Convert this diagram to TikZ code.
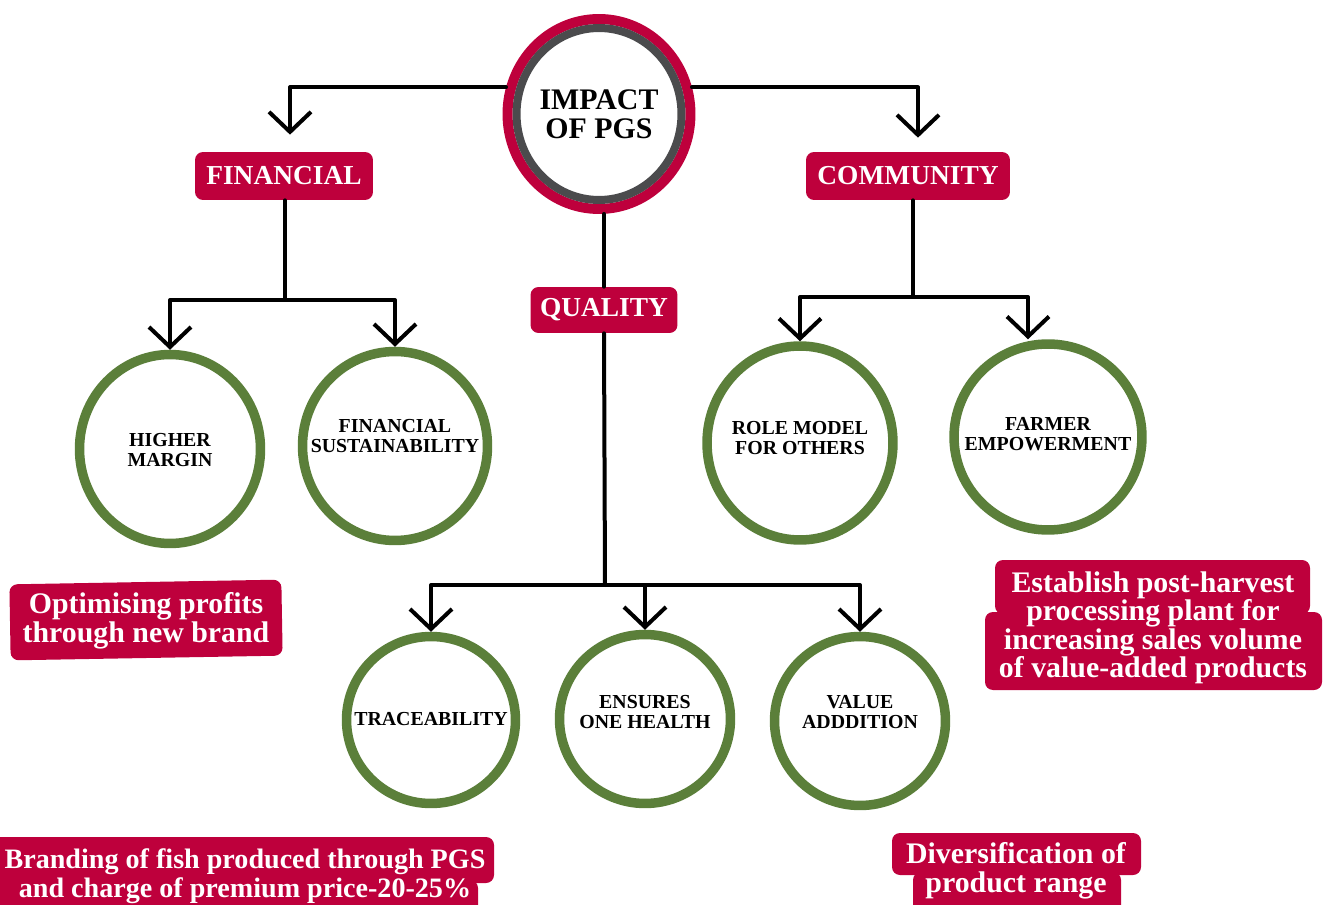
\documentclass[tikz,border=0pt]{standalone}
\usepackage{fontspec}
\setmainfont{Liberation Serif}
\usetikzlibrary{arrows.meta,shapes.geometric}
\definecolor{crim}{HTML}{BE003C}
\definecolor{leaf}{HTML}{5B7F3A}
\definecolor{ringgray}{HTML}{4B4B4D}
\begin{document}
\begin{tikzpicture}[x=0.02cm,y=-0.02cm,
  conn/.style={line width=0.08cm, line cap=round, line join=round, -{Straight Barb[length=0.4cm,width=0.84cm]}},
  link/.style={line width=0.08cm, line cap=round, line join=round},
  tag/.style={fill=crim, text=white, rounded corners=0.16cm, font=\bfseries\fontsize{15.6}{15.6}\selectfont, inner sep=0pt},
  bubble/.style={draw=leaf, line width=0.19cm, ellipse, inner sep=0pt},
  blabel/.style={font=\bfseries\fontsize{11.3}{11.5}\selectfont, align=center},
  note/.style={text=white, font=\bfseries\fontsize{17}{16.2}\selectfont, align=center, inner sep=0pt},
  notebg/.style={fill=crim, rounded corners=0.16cm}]
\useasboundingbox (0,0) rectangle (1329,905);

% central node
\node[ellipse, draw=crim, line width=0.2cm, minimum width=3.66cm, minimum height=3.8cm, inner sep=0pt,
      align=center, font=\bfseries\fontsize{17}{16.5}\selectfont] (impact) at (599,114) {IMPACT\\OF PGS};
\draw[ringgray, line width=0.16cm] (impact.center) ellipse [x radius=1.65cm, y radius=1.72cm];

% category tags
\node[tag, minimum width=3.56cm, minimum height=0.96cm] (fin) at (284,176) {FINANCIAL};
\node[tag, minimum width=2.94cm, minimum height=0.92cm] (qual) at (604,310) {QUALITY};
\node[tag, minimum width=4.08cm, minimum height=0.96cm] (com) at (908,176) {COMMUNITY};

% bubbles
\node[bubble, minimum width=3.62cm, minimum height=3.78cm] (hm) at (170,449) {};
\node[bubble, minimum width=3.70cm, minimum height=3.78cm] (fs) at (395,446) {};
\node[bubble, minimum width=3.72cm, minimum height=3.88cm] (rm) at (800,443) {};
\node[bubble, minimum width=3.76cm, minimum height=3.72cm] (fe) at (1048,437) {};
\node[bubble, minimum width=3.38cm, minimum height=3.34cm] (tr) at (431,720) {};
\node[bubble, minimum width=3.42cm, minimum height=3.38cm] (en) at (645,719) {};
\node[bubble, minimum width=3.42cm, minimum height=3.38cm] (va) at (860,721) {};

\node[blabel] (hmT) at (170,450) {HIGHER\\MARGIN};
\node[blabel] (fsT) at (395,436) {FINANCIAL\\SUSTAINABILITY};
\node[blabel] (rmT) at (800,438) {ROLE MODEL\\FOR OTHERS};
\node[blabel] (feT) at (1048,434) {FARMER\\EMPOWERMENT};
\node[blabel] (trT) at (431,719) {TRACEABILITY};
\node[blabel] (enT) at (645,712) {ENSURES\\ONE HEALTH};
\node[blabel] (vaT) at (860,712) {VALUE\\ADDDITION};

% connectors
\coordinate (fj) at (285,300);
\coordinate (qj) at (605,585);
\coordinate (cj) at (913,297);
\draw[conn, shorten >=0.34cm] (impact.164) -| ([xshift=0.12cm]fin.north);
\draw[conn, shorten >=0.28cm] (impact.16) -| ([xshift=0.2cm]com.north);
\draw[link] (qual.north |- impact.south) -- (qual.north);

\draw[link] (fin.south -| fj) -- (fj);
\draw[conn] (fj) -| (hm.north);
\draw[conn] (fj) -| (fs.north);

\draw[link] (qual.south) -- (qj);
\draw[conn] (qj) -| (tr.north);
\draw[conn] (qj) -| (en.north);
\draw[conn] (qj) -| (va.north);

\draw[link] (com.south -| cj) -- (cj);
\draw[conn] (cj) -| (rm.north);
\draw[conn] (cj) -| ([xshift=-0.4cm]fe.north);

% notes
\fill[notebg, rotate around={1:(146,620)}] (10,582) rectangle (282,658);
\node[note, font=\bfseries\fontsize{17}{16.6}\selectfont] (opt) at (146,621) {Optimising profits\\through new brand};

\fill[notebg] (995,560) rectangle (1310,614);
\fill[notebg] (985,612) rectangle (1322,690);
\node[note] (est) at (1153,628) {Establish post-harvest\\processing plant for\\increasing sales volume\\of value-added products};

\fill[notebg] (892,833) rectangle (1141,875);
\fill[notebg] (913,872) rectangle (1121,930);
\node[note] (div) at (1016,871) {Diversification of\\product range};

\fill[notebg] (-40,837) rectangle (494,883);
\fill[notebg] (-40,880) rectangle (478,930);
\node[note, font=\bfseries\fontsize{16}{16.2}\selectfont] (brand) at (245,876) {Branding of fish produced through PGS\\and charge of premium price-20-25\%};
\end{tikzpicture}
\end{document}
